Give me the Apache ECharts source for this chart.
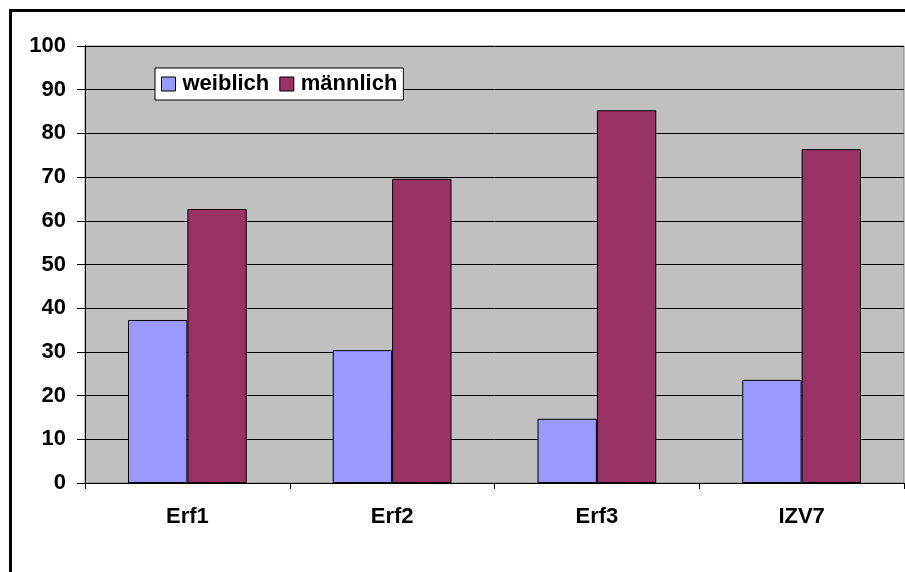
<!DOCTYPE html>
<html><head><meta charset="utf-8">
<script src="https://cdn.jsdelivr.net/npm/echarts@6/dist/echarts.min.js"></script>
<style>html,body{margin:0;padding:0;background:#fff}#c{width:905px;height:572px}</style>
</head><body><div id="c"></div>
<script>
var categories = ['Erf1', 'Erf2', 'Erf3', 'IZV7'];
var weiblich = [37.3, 30.4, 14.7, 23.6];
var maennlich = [62.7, 69.6, 85.3, 76.4];
var seriesNames = ['weiblich', 'männlich'];

var chart = echarts.init(document.getElementById('c'));
var font = '"Liberation Sans", Arial, sans-serif';
chart.setOption({
  animation: false,
  graphic: [{
    type: 'rect', z: -10,
    shape: { x: 10.5, y: 10.5, width: 910, height: 600 },
    style: { fill: 'none', stroke: '#000', lineWidth: 3 }
  }],
  grid: { left: 85, top: 46, right: 1, bottom: 89, show: true,
    backgroundColor: '#C0C0C0', borderColor: '#808080', borderWidth: 1 },
  legend: {
    data: seriesNames, left: 155, top: 68, orient: 'horizontal',
    backgroundColor: '#fff', borderColor: '#000', borderWidth: 1,
    padding: [5, 6, 5, 6], itemWidth: 14, itemHeight: 14, itemGap: 10,
    icon: 'rect',
    itemStyle: { borderColor: '#000', borderWidth: 1 },
    textStyle: { fontFamily: font, fontWeight: 'bold', fontSize: 22, color: '#000', padding: [0, 0, 0, 2], lineHeight: 22 }
  },
  xAxis: {
    type: 'category', data: categories, boundaryGap: true,
    axisLine: { lineStyle: { color: '#000', width: 1 } },
    axisTick: { show: true, interval: 0, length: 6, lineStyle: { color: '#000' } },
    axisLabel: { interval: 0, margin: 23, fontFamily: font, fontWeight: 'bold', fontSize: 22, color: '#000' },
    splitLine: { show: false }
  },
  yAxis: {
    type: 'value', min: 0, max: 100, interval: 10,
    axisLine: { show: true, lineStyle: { color: '#000', width: 1 } },
    axisTick: { show: true, length: 8, lineStyle: { color: '#000' } },
    axisLabel: { margin: 19, fontFamily: font, fontWeight: 'bold', fontSize: 22, color: '#000' },
    splitLine: { show: true, lineStyle: { color: '#000', width: 1 } }
  },
  series: [
    { name: seriesNames[0], type: 'bar', data: weiblich, barGap: '0%', barCategoryGap: '42%',
      itemStyle: { color: '#9999FF', borderColor: '#000', borderWidth: 1 } },
    { name: seriesNames[1], type: 'bar', data: maennlich,
      itemStyle: { color: '#993366', borderColor: '#000', borderWidth: 1 } }
  ]
});
</script></body></html>
